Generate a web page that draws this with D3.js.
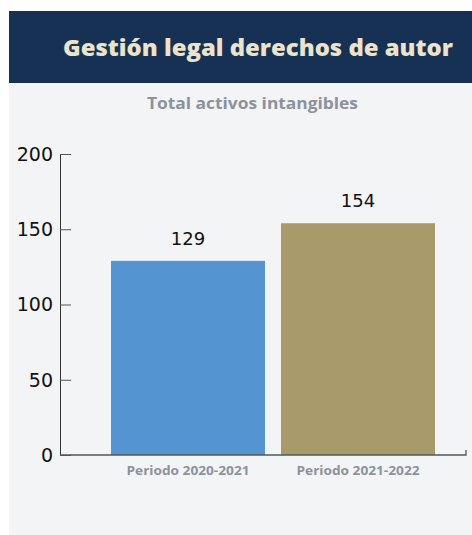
<!DOCTYPE html>
<html>
<head>
<meta charset="utf-8">
<script src="https://cdn.jsdelivr.net/npm/d3@7"></script>
<style>
  body { margin: 0; background: #ffffff; }
  svg { display: block; }
</style>
</head>
<body>
<svg id="chart" width="472" height="535"></svg>
<script>
let periods = ["Periodo 2020-2021", "Periodo 2021-2022"];
let values = [129, 154];
let colors = ["#5394d1", "#a89a6a"];
let yTicks = [0, 50, 100, 150, 200];

let svg = d3.select("#chart");

// panel + header
svg.append("rect").attr("x", 9).attr("y", 83).attr("width", 463).attr("height", 452).attr("fill", "#f3f4f6");
svg.append("rect").attr("x", 9).attr("y", 11).attr("width", 463).attr("height", 72).attr("fill", "#163154");

svg.append("text")
    .attr("x", 63).attr("y", 56)
    .attr("textLength", 390)
    .attr("lengthAdjust", "spacingAndGlyphs")
    .style("font-family", "Open Sans")
    .style("font-weight", 800)
    .style("font-size", "23px")
    .attr("fill", "#ebe3cc")
    .text("Gestión legal derechos de autor");

svg.append("text")
    .attr("x", 147).attr("y", 109)
    .attr("textLength", 211)
    .attr("lengthAdjust", "spacingAndGlyphs")
    .style("font-family", "Open Sans")
    .style("font-weight", 700)
    .style("font-size", "16px")
    .attr("fill", "#8c929d")
    .text("Total activos intangibles");

let y = d3.scaleLinear().domain([0, 200]).range([455, 154]);
let x = d3.scaleBand().domain(periods).range([103, 443]).paddingInner(0.094).paddingOuter(0.047);

// bars
svg.selectAll("rect.bar")
    .data(values)
    .enter().append("rect")
    .attr("class", "bar")
    .attr("x", (d, i) => x(periods[i]))
    .attr("width", x.bandwidth())
    .attr("y", d => y(d))
    .attr("height", d => y(0) - y(d))
    .attr("fill", (d, i) => colors[i]);

// value labels
svg.selectAll("text.val")
    .data(values)
    .enter().append("text")
    .attr("class", "val")
    .attr("x", (d, i) => x(periods[i]) + x.bandwidth() / 2)
    .attr("y", d => y(d) - 16)
    .attr("text-anchor", "middle")
    .style("font-family", "DejaVu Sans")
    .style("font-size", "18px")
    .attr("fill", "#111")
    .text(d => d);

// y axis
let yAxis = svg.append("g")
    .attr("transform", "translate(60,0)")
    .call(d3.axisRight(y).tickValues(yTicks).tickSize(11).tickSizeOuter(0).tickFormat(""));
yAxis.select(".domain").attr("stroke", "#333");
yAxis.selectAll(".tick line").attr("stroke", "#555");

svg.append("g").selectAll("text")
    .data(yTicks)
    .enter().append("text")
    .attr("x", 53)
    .attr("y", d => y(d))
    .attr("dy", "0.36em")
    .attr("text-anchor", "end")
    .style("font-family", "DejaVu Sans")
    .style("font-size", "19px")
    .attr("fill", "#111")
    .text(d => d);

// x axis line
svg.append("path")
    .attr("d", "M60," + y(0) + "H466V" + (y(0) - 5))
    .attr("fill", "none")
    .attr("stroke", "#555")
    .attr("stroke-width", 1.3);

svg.selectAll("text.xl")
    .data(periods)
    .enter().append("text")
    .attr("class", "xl")
    .attr("x", d => x(d) + x.bandwidth() / 2 - 61.5)
    .attr("y", 475)
    .attr("textLength", 123)
    .attr("lengthAdjust", "spacingAndGlyphs")
    .style("font-family", "Open Sans")
    .style("font-weight", 700)
    .style("font-size", "12px")
    .attr("fill", "#8c929d")
    .text(d => d);
</script>
</body>
</html>
